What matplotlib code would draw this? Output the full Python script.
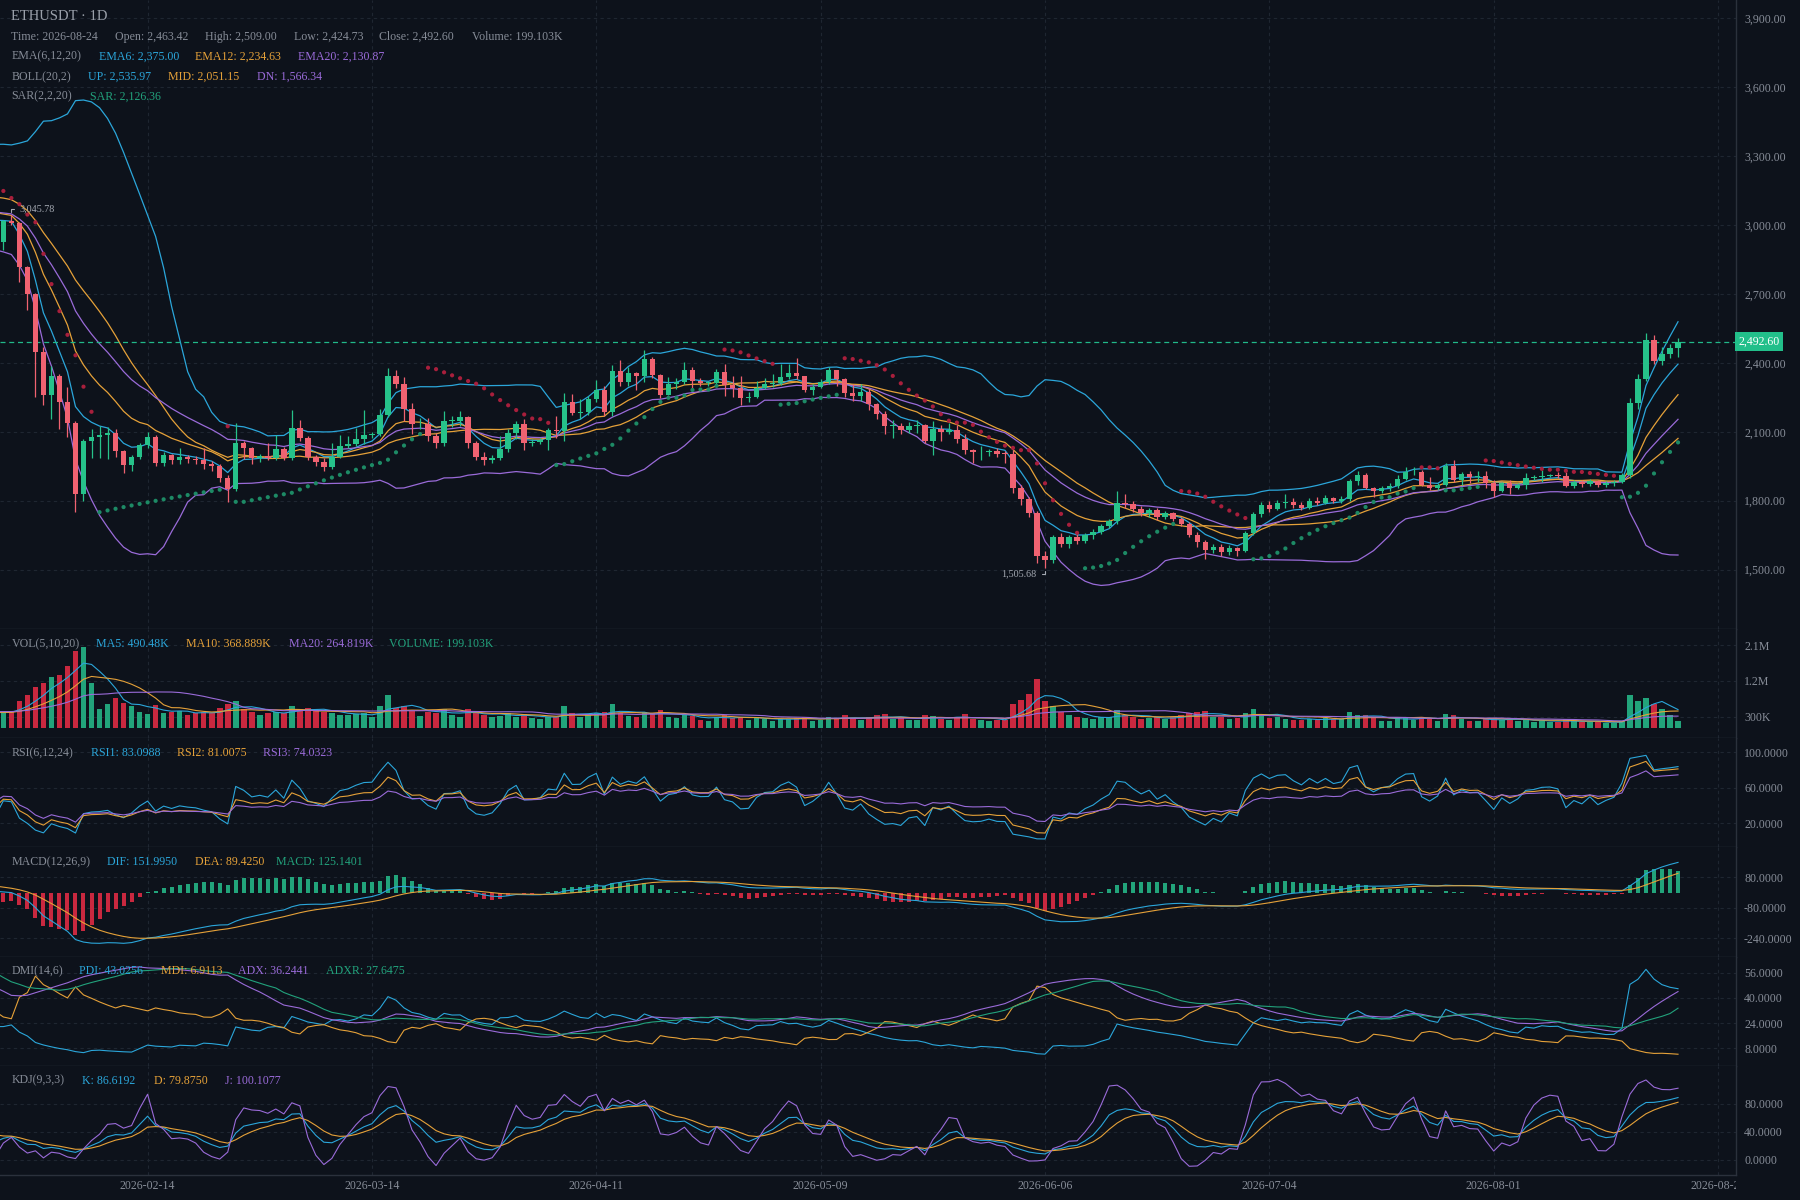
import numpy as np
import pandas as pd
import matplotlib
matplotlib.use("Agg")
import matplotlib.pyplot as plt
from matplotlib.transforms import Bbox, TransformedBbox

plt.rcParams['font.family'] = ['Liberation Serif', 'DejaVu Serif']

# colours
BG = '#0d121b'
GRID = '#1f2631'
SEP = '#2b313c'
TXT = '#868c97'
UP = '#26c28a'
DOWN = '#f06271'
VUP = '#22a47b'
VDOWN = '#c9283f'
BLUE = '#2ba6da'
ORANGE = '#e5a139'
PURPLE = '#9a6bd9'
TEAL = '#22a27c'
SAR_UP = '#1d8a65'
SAR_DN = '#a81f3c'

# hidden warm-up days before the visible window (feed the indicators)
warm_start = '2026-01-02'
warm_open = [2840, 2860, 2900, 2950, 3000, 3050, 3100, 3150, 3210, 3260, 3300, 3320, 3280,
             3210, 3130, 3050, 2990, 2960, 3010, 3080, 3140, 3180, 3120, 3040, 2980]
warm_high = [2875, 2915, 2965, 3015, 3065, 3115, 3165, 3225, 3275, 3315, 3335, 3335, 3295,
             3225, 3145, 3065, 3005, 3025, 3095, 3155, 3195, 3195, 3135, 3055, 2995]
warm_low = [2825, 2845, 2885, 2935, 2985, 3035, 3085, 3135, 3195, 3245, 3285, 3265, 3195,
            3115, 3035, 2975, 2945, 2945, 2995, 3065, 3125, 3105, 3025, 2965, 2910]
warm_close = [2860, 2900, 2950, 3000, 3050, 3100, 3150, 3210, 3260, 3300, 3320, 3280, 3210,
              3130, 3050, 2990, 2960, 3010, 3080, 3140, 3180, 3120, 3040, 2980, 2925]
warm_vol = [380, 360, 400, 420, 390, 430, 410, 450, 470, 440, 480, 520, 460,
            430, 410, 400, 420, 390, 410, 380, 400, 420, 390, 410, 400]

# visible candles, 2026-01-27 .. 2026-08-24
opens = [
    2925, 3016, 3008, 2816, 2701, 2447, 2262, 2341, 2229, 2139,
    1830, 2058, 2079, 2084, 2096, 2016, 1955, 1990, 2041, 2079,
    1965, 2000, 1975, 1990, 1980, 1975, 1960, 1950, 1900, 1850,
    2053, 2028, 1985, 1995, 1985, 2025, 1985, 2118, 2075, 1990,
    1970, 1945, 1990, 2036, 2047, 2070, 2087, 2089, 2171, 2345,
    2310, 2197, 2132, 2136, 2081, 2049, 2146, 2148, 2164, 2052,
    1990, 1975, 1985, 2023, 2096, 2132, 2052, 2054, 2063, 2106,
    2103, 2231, 2183, 2185, 2241, 2281, 2186, 2363, 2317, 2355,
    2343, 2415, 2346, 2258, 2307, 2318, 2368, 2321, 2311, 2312,
    2362, 2302, 2290, 2249, 2251, 2290, 2310, 2313, 2339, 2354,
    2342, 2284, 2296, 2316, 2367, 2331, 2267, 2255, 2274, 2219,
    2176, 2125, 2127, 2108, 2125, 2128, 2060, 2111, 2097, 2108,
    2068, 2020, 2010, 2011, 2015, 2003, 2002, 1854, 1806, 1745,
    1560, 1540, 1640, 1610, 1640, 1625, 1650, 1665, 1690, 1710,
    1789, 1785, 1763, 1745, 1760, 1730, 1745, 1720, 1700, 1650,
    1620, 1585, 1600, 1575, 1595, 1580, 1660, 1740, 1780, 1765,
    1790, 1795, 1780, 1770, 1800, 1790, 1810, 1800, 1806, 1886,
    1910, 1856, 1840, 1857, 1863, 1896, 1923, 1926, 1869, 1854,
    1869, 1951, 1890, 1915, 1905, 1907, 1879, 1842, 1878, 1856,
    1870, 1899, 1902, 1909, 1910, 1907, 1866, 1880, 1872, 1885,
    1868, 1875, 1880, 1910, 2225, 2330, 2500, 2410, 2440, 2463.42]
highs = [
    3024, 3045.78, 3012, 2822, 2706, 2470, 2386, 2350, 2293, 2145,
    2070, 2110, 2124, 2120, 2110, 2020, 2000, 2050, 2100, 2085,
    2010, 2005, 2031, 1998, 1995, 2031, 1972, 1960, 1910, 2139,
    2060, 2035, 2005, 2053, 2084, 2035, 2194, 2150, 2080, 2000,
    1985, 2053, 2084, 2080, 2118, 2194, 2100, 2200, 2379, 2370,
    2340, 2225, 2160, 2160, 2095, 2190, 2170, 2190, 2170, 2060,
    2010, 2000, 2080, 2110, 2147, 2155, 2070, 2075, 2118, 2170,
    2270, 2265, 2241, 2255, 2325, 2300, 2390, 2413, 2380, 2360,
    2458, 2424, 2350, 2340, 2333, 2405, 2380, 2333, 2320, 2375,
    2395, 2343, 2343, 2272, 2320, 2335, 2350, 2395, 2395, 2420,
    2345, 2310, 2330, 2380, 2370, 2335, 2310, 2310, 2290, 2225,
    2190, 2150, 2140, 2142, 2150, 2135, 2145, 2128, 2140, 2130,
    2090, 2025, 2040, 2025, 2030, 2015, 2020, 1870, 1815, 1755,
    1580, 1650, 1660, 1650, 1655, 1660, 1675, 1700, 1720, 1842,
    1830, 1800, 1775, 1770, 1768, 1755, 1752, 1730, 1705, 1665,
    1630, 1610, 1610, 1605, 1600, 1670, 1750, 1795, 1800, 1805,
    1828, 1810, 1795, 1810, 1815, 1824, 1818, 1820, 1895, 1930,
    1920, 1860, 1862, 1875, 1910, 1945, 1945, 1935, 1905, 1875,
    1962, 1975, 1925, 1928, 1930, 1930, 1888, 1882, 1890, 1878,
    1920, 1912, 1935, 1918, 1925, 1925, 1890, 1888, 1895, 1892,
    1885, 1890, 1920, 2245, 2350, 2530, 2520, 2470, 2480, 2509.00]
lows = [
    2893, 3000, 2750, 2632, 2250, 2216, 2154, 2110, 2076, 1750,
    1800, 1985, 1985, 1980, 1990, 1920, 1930, 1980, 2030, 1950,
    1950, 1960, 1960, 1965, 1960, 1940, 1930, 1880, 1795, 1840,
    1980, 1960, 1970, 1975, 1975, 1975, 1975, 2060, 1975, 1950,
    1930, 1940, 1985, 2030, 2040, 2045, 2075, 2080, 2165, 2290,
    2145, 2090, 2110, 2060, 2030, 2040, 2120, 2125, 2030, 1975,
    1955, 1965, 1975, 2010, 2070, 2020, 2040, 2045, 2020, 2075,
    2060, 2175, 2155, 2175, 2230, 2170, 2170, 2300, 2300, 2280,
    2315, 2335, 2248, 2258, 2285, 2307, 2284, 2300, 2300, 2300,
    2255, 2252, 2218, 2230, 2245, 2285, 2295, 2305, 2330, 2330,
    2275, 2260, 2290, 2310, 2300, 2250, 2235, 2235, 2196, 2157,
    2090, 2075, 2090, 2095, 2095, 2052, 2000, 2060, 2090, 2052,
    2005, 1965, 1975, 1995, 1990, 1965, 1835, 1780, 1730, 1530,
    1505.68, 1530, 1600, 1595, 1610, 1615, 1635, 1655, 1680, 1700,
    1770, 1750, 1735, 1730, 1715, 1720, 1710, 1690, 1640, 1600,
    1545, 1570, 1560, 1565, 1560, 1575, 1650, 1730, 1750, 1760,
    1770, 1770, 1760, 1765, 1780, 1785, 1790, 1790, 1800, 1870,
    1852, 1815, 1835, 1840, 1855, 1890, 1910, 1862, 1845, 1845,
    1865, 1880, 1870, 1875, 1880, 1855, 1815, 1838, 1830, 1850,
    1850, 1890, 1880, 1902, 1898, 1860, 1855, 1860, 1865, 1860,
    1858, 1865, 1875, 1900, 2200, 2320, 2395, 2390, 2420, 2424.73]
closes = [
    3016, 3008, 2816, 2701, 2447, 2262, 2341, 2229, 2139, 1830,
    2058, 2079, 2084, 2096, 2016, 1955, 1990, 2041, 2079, 1965,
    2000, 1975, 1990, 1980, 1975, 1960, 1950, 1900, 1850, 2053,
    2028, 1985, 1995, 1985, 2025, 1985, 2118, 2075, 1990, 1970,
    1945, 1990, 2036, 2047, 2070, 2087, 2089, 2171, 2345, 2310,
    2197, 2132, 2136, 2081, 2049, 2146, 2148, 2164, 2052, 1990,
    1975, 1985, 2023, 2096, 2132, 2052, 2054, 2063, 2106, 2103,
    2231, 2183, 2185, 2241, 2281, 2186, 2363, 2317, 2355, 2343,
    2415, 2346, 2258, 2307, 2318, 2368, 2321, 2311, 2312, 2362,
    2302, 2290, 2249, 2251, 2290, 2310, 2313, 2339, 2354, 2342,
    2284, 2296, 2316, 2367, 2331, 2267, 2255, 2274, 2219, 2176,
    2125, 2127, 2108, 2125, 2128, 2060, 2111, 2097, 2108, 2068,
    2020, 2010, 2011, 2015, 2003, 2002, 1854, 1806, 1745, 1560,
    1540, 1640, 1610, 1640, 1625, 1650, 1665, 1690, 1710, 1789,
    1785, 1763, 1745, 1760, 1730, 1745, 1720, 1700, 1650, 1620,
    1585, 1600, 1575, 1595, 1580, 1660, 1740, 1780, 1765, 1790,
    1795, 1780, 1770, 1800, 1790, 1810, 1800, 1806, 1886, 1910,
    1856, 1840, 1857, 1863, 1896, 1923, 1926, 1869, 1854, 1869,
    1951, 1890, 1915, 1905, 1907, 1879, 1842, 1878, 1856, 1870,
    1899, 1902, 1909, 1910, 1907, 1866, 1880, 1872, 1885, 1868,
    1875, 1880, 1910, 2225, 2330, 2500, 2410, 2440, 2463.42, 2492.60]
# volume in K
volumes = [
    420, 430, 700, 850, 1050, 1150, 1300, 1350, 1580, 1950,
    2070, 1140, 480, 620, 770, 650, 560, 420, 360, 600,
    380, 420, 450, 330, 380, 420, 400, 520, 620, 700,
    480, 420, 350, 380, 420, 380, 560, 480, 520, 450,
    420, 380, 350, 330, 360, 380, 300, 560, 840, 520,
    560, 440, 320, 420, 400, 500, 330, 300, 480, 400,
    340, 300, 320, 380, 300, 360, 260, 240, 300, 280,
    560, 380, 300, 340, 380, 420, 620, 400, 320, 300,
    420, 380, 460, 300, 260, 340, 320, 220, 200, 300,
    340, 260, 300, 220, 260, 240, 200, 250, 230, 260,
    300, 200, 220, 300, 260, 330, 240, 220, 300, 330,
    360, 230, 260, 220, 210, 340, 320, 240, 220, 300,
    360, 240, 220, 200, 210, 220, 620, 720, 860, 1250,
    700, 560, 420, 330, 300, 260, 240, 280, 300, 460,
    330, 300, 240, 260, 280, 240, 300, 330, 380, 420,
    440, 300, 280, 240, 260, 380, 480, 360, 260, 300,
    240, 220, 210, 240, 220, 260, 240, 230, 420, 340,
    330, 260, 200, 190, 260, 300, 220, 300, 240, 200,
    360, 330, 240, 200, 180, 240, 260, 220, 240, 190,
    230, 170, 200, 160, 170, 230, 180, 160, 170, 160,
    150, 140, 180, 850, 700, 760, 620, 480, 330, 199.103]

tick_dates = ['2026-02-14', '2026-03-14', '2026-04-11', '2026-05-09',
              '2026-06-06', '2026-07-04', '2026-08-01', '2026-08-29']

n_warm = len(warm_close)
o = np.array(warm_open + opens, float)
h = np.array(warm_high + highs, float)
l = np.array(warm_low + lows, float)
c = np.array(warm_close + closes, float)
v = np.array(warm_vol + volumes, float)
dates = pd.date_range(warm_start, periods=len(c))
x = np.arange(len(c)) - n_warm
tick_pos = (pd.to_datetime(tick_dates) - dates[n_warm]).days.values

cs, hs, ls, vs = pd.Series(c), pd.Series(h), pd.Series(l), pd.Series(v)
up = c >= o


def ema(s, n):
    return s.ewm(span=n, adjust=False).mean()


def sma(s, n):
    return s.ewm(alpha=1.0 / n, adjust=False).mean()


# EMA + BOLL
ema6, ema12, ema20 = ema(cs, 6), ema(cs, 12), ema(cs, 20)
mid = cs.rolling(20).mean()
sd = cs.rolling(20).std(ddof=0)
boll_up, boll_dn = mid + 2 * sd, mid - 2 * sd

# SAR(2,2,20)
sar = np.zeros(len(c))
bull = np.zeros(len(c), bool)
trend, af, ep = True, 0.02, h[0]
sar[0] = l[0]
bull[0] = True
for i in range(1, len(c)):
    s = sar[i - 1] + af * (ep - sar[i - 1])
    if trend:
        s = min(s, l[i - 1], l[max(i - 2, 0)])
        if l[i] < s:
            trend, s, ep, af = False, ep, l[i], 0.02
        elif h[i] > ep:
            ep, af = h[i], min(af + 0.02, 0.2)
    else:
        s = max(s, h[i - 1], h[max(i - 2, 0)])
        if h[i] > s:
            trend, s, ep, af = True, ep, h[i], 0.02
        elif l[i] < ep:
            ep, af = l[i], min(af + 0.02, 0.2)
    sar[i] = s
    bull[i] = trend

# VOL MA
vma5 = vs.rolling(5, min_periods=1).mean()
vma10 = vs.rolling(10, min_periods=1).mean()
vma20 = vs.rolling(20, min_periods=1).mean()

# RSI
diff = cs.diff().fillna(0)
rsi = {n: sma(diff.clip(lower=0), n) / sma(diff.abs(), n) * 100 for n in (6, 12, 24)}

# MACD
dif = ema(cs, 12) - ema(cs, 26)
dea = ema(dif, 9)
hist = 2 * (dif - dea)

# DMI (Wilder smoothing, ADXR lag 6)
pc = cs.shift(1)
tr = pd.concat([hs - ls, (hs - pc).abs(), (ls - pc).abs()], axis=1).max(axis=1)
hd = hs - hs.shift(1)
ld = ls.shift(1) - ls
dmp = pd.Series(np.where((hd > 0) & (hd > ld), hd, 0.0))
dmm = pd.Series(np.where((ld > 0) & (ld > hd), ld, 0.0))
trs = sma(tr, 14)
pdi = sma(dmp, 14) / trs * 100
mdi = sma(dmm, 14) / trs * 100
adx = sma((mdi - pdi).abs() / (mdi + pdi) * 100, 14)
adxr = (adx + adx.shift(6).bfill()) / 2

# KDJ
llv = ls.rolling(9, min_periods=1).min()
hhv = hs.rolling(9, min_periods=1).max()
rsv = (cs - llv) / (hhv - llv) * 100
kk = sma(rsv, 3)
dd = sma(kk, 3)
jj = 3 * kk - 2 * dd

# ---------------- figure ----------------
W, H = 1568, 1045
RIGHT = 1512


def fx(px):
    return px / W


def fy(py):
    return 1 - py / H


fig = plt.figure(figsize=(18, 12), dpi=100, facecolor=BG)
panels = [(0, 548), (548, 643), (643, 738), (738, 833), (833, 928), (928, 1023)]
axes = [fig.add_axes([0, fy(b), fx(RIGHT), (b - t) / H], facecolor=BG) for t, b in panels]
ax_p, ax_v, ax_r, ax_m, ax_d, ax_k = axes

limits = [(1240, 3980), (-250, 2505), (-7.1, 115.5), (-337, 237), (-2.9, 66.2), (-21.2, 133.9)]
yticks = [
    (np.arange(1500, 3901, 300), [f'{t:,.2f}' for t in np.arange(1500, 3901, 300)]),
    ([300, 1200, 2100], ['300K', '1.2M', '2.1M']),
    ([20, 60, 100], ['20.0000', '60.0000', '100.0000']),
    ([-240, -80, 80], ['-240.0000', '-80.0000', '80.0000']),
    ([8, 24, 40, 56], ['8.0000', '24.0000', '40.0000', '56.0000']),
    ([0, 40, 80], ['0.0000', '40.0000', '80.0000']),
]
for ax, lim, (tv, tl) in zip(axes, limits, yticks):
    ax.set_xlim(-0.42, 216.2)
    ax.set_ylim(*lim)
    ax.set_yticks(tv)
    ax.set_yticklabels(tl)
    ax.yaxis.tick_right()
    ax.set_xticks(tick_pos)
    ax.tick_params(axis='y', length=0, pad=6, labelsize=8.6, labelcolor=TXT)
    ax.tick_params(axis='x', length=0, labelbottom=False)
    ax.grid(True, color=GRID, ls=(0, (3, 3)), lw=0.8)
    ax.set_axisbelow(True)
    for s in ('top', 'left'):
        ax.spines[s].set_visible(False)
    for s in ('bottom', 'right'):
        ax.spines[s].set_color(SEP)
        ax.spines[s].set_linewidth(1.0)

# price panel
cols = np.where(up, UP, DOWN)
ax_p.vlines(x, l, h, color=cols, lw=0.9, zorder=3)
body = np.maximum(np.abs(c - o), 4)
ax_p.bar(x, body, bottom=np.minimum(o, c), width=0.68, color=cols, zorder=3)
ax_p.plot(x, boll_up, color=BLUE, lw=0.9, zorder=2)
ax_p.plot(x, mid, color=ORANGE, lw=0.9, zorder=2)
ax_p.plot(x, boll_dn, color=PURPLE, lw=0.9, zorder=2)
ax_p.plot(x, ema6, color=BLUE, lw=0.9, zorder=2)
ax_p.plot(x, ema12, color=ORANGE, lw=0.9, zorder=2)
ax_p.plot(x, ema20, color=PURPLE, lw=0.9, zorder=2)
ax_p.scatter(x, sar, s=9, c=np.where(bull, SAR_UP, SAR_DN), lw=0, zorder=4)
ax_p.axhline(c[-1], color='#21b889', lw=0.9, ls=(0, (4, 3)), zorder=2)
ax_p.annotate(f'{c[-1]:,.2f}', xy=(1.0, c[-1]), xycoords=('axes fraction', 'data'),
              xytext=(2, 0), textcoords='offset points', ha='left', va='center',
              color='white', fontsize=8.6, annotation_clip=False,
              bbox=dict(boxstyle='square,pad=0.28', fc='#22bf8a', ec='none'))

# max / min markers
ihi = n_warm + int(np.argmax(highs))
ilo = n_warm + int(np.argmin(lows))
ax_p.annotate(f'{h[ihi]:,.2f}', xy=(x[ihi], h[ihi]), xytext=(6, 4), textcoords='offset points',
              ha='left', va='center', color='#a3a8b1', fontsize=7.3,
              arrowprops=dict(arrowstyle='-', color='#a3a8b1', lw=0.8,
                              connectionstyle='angle,angleA=0,angleB=90,rad=0'))
ax_p.annotate(f'{l[ilo]:,.2f}', xy=(x[ilo], l[ilo]), xytext=(-6, -4), textcoords='offset points',
              ha='right', va='center', color='#a3a8b1', fontsize=7.3,
              arrowprops=dict(arrowstyle='-', color='#a3a8b1', lw=0.8,
                              connectionstyle='angle,angleA=0,angleB=90,rad=0'))

# volume
ax_v.bar(x, v, width=0.7, color=np.where(up, VUP, VDOWN), zorder=2)
ax_v.plot(x, vma5, color=BLUE, lw=0.8, zorder=3)
ax_v.plot(x, vma10, color=ORANGE, lw=0.8, zorder=3)
ax_v.plot(x, vma20, color=PURPLE, lw=0.8, zorder=3)

# RSI
ax_r.plot(x, rsi[6], color=BLUE, lw=0.8)
ax_r.plot(x, rsi[12], color=ORANGE, lw=0.8)
ax_r.plot(x, rsi[24], color=PURPLE, lw=0.8)

# MACD
ax_m.bar(x, hist, width=0.5, color=np.where(hist >= 0, VUP, VDOWN), zorder=2)
ax_m.plot(x, dif, color=BLUE, lw=0.8, zorder=3)
ax_m.plot(x, dea, color=ORANGE, lw=0.8, zorder=3)

# DMI
ax_d.plot(x, pdi, color=BLUE, lw=0.8)
ax_d.plot(x, mdi, color=ORANGE, lw=0.8)
ax_d.plot(x, adx, color=PURPLE, lw=0.8)
ax_d.plot(x, adxr, color=TEAL, lw=0.8)

# KDJ
ax_k.plot(x, kk, color=BLUE, lw=0.8)
ax_k.plot(x, dd, color=ORANGE, lw=0.8)
ax_k.plot(x, jj, color=PURPLE, lw=0.8)

# date labels, cut at the price-scale column
ax_k.set_xticklabels(tick_dates)
ax_k.tick_params(axis='x', labelbottom=True, labelsize=8.6, labelcolor=TXT, pad=4)
clip = TransformedBbox(Bbox([[0, 0], [fx(RIGHT), 1]]), fig.transFigure)
for lbl in ax_k.get_xticklabels():
    lbl.set_clip_on(True)
    lbl.set_clip_box(clip)

# legends
FS = 8.6


def row(y, items):
    for px, s, col in items:
        fig.text(fx(px), fy(y), s, color=col, fontsize=FS, va='center', ha='left')


fig.text(fx(10), fy(14), 'ETHUSDT · 1D', color='#9aa0aa', fontsize=10.5, va='center')
row(32, [(10, 'Time: 2026-08-24', TXT), (100, 'Open: 2,463.42', TXT), (179, 'High: 2,509.00', TXT),
         (256, 'Low: 2,424.73', TXT), (330, 'Close: 2,492.60', TXT), (411, 'Volume: 199.103K', TXT)])
row(49, [(10, 'EMA(6,12,20)', TXT), (86, 'EMA6: 2,375.00', BLUE), (170, 'EMA12: 2,234.63', ORANGE),
         (260, 'EMA20: 2,130.87', PURPLE)])
row(67, [(10, 'BOLL(20,2)', TXT), (77, 'UP: 2,535.97', BLUE), (146, 'MID: 2,051.15', ORANGE),
         (224, 'DN: 1,566.34', PURPLE)])
row(84, [(10, 'SAR(2,2,20)', TXT), (78, 'SAR: 2,126.36', TEAL)])
row(561, [(10, 'VOL(5,10,20)', TXT), (84, 'MA5: 490.48K', BLUE), (162, 'MA10: 368.889K', ORANGE),
          (252, 'MA20: 264.819K', PURPLE), (339, 'VOLUME: 199.103K', TEAL)])
row(656, [(10, 'RSI(6,12,24)', TXT), (79, 'RSI1: 83.0988', BLUE), (154, 'RSI2: 81.0075', ORANGE),
          (229, 'RSI3: 74.0323', PURPLE)])
row(751, [(10, 'MACD(12,26,9)', TXT), (93, 'DIF: 151.9950', BLUE), (170, 'DEA: 89.4250', ORANGE),
          (240, 'MACD: 125.1401', TEAL)])
row(846, [(10, 'DMI(14,6)', TXT), (69, 'PDI: 43.0256', BLUE), (140, 'MDI: 6.9113', ORANGE),
          (207, 'ADX: 36.2441', PURPLE), (284, 'ADXR: 27.6475', TEAL)])
row(941, [(10, 'KDJ(9,3,3)', TXT), (71, 'K: 86.6192', BLUE), (134, 'D: 79.8750', ORANGE),
          (196, 'J: 100.1077', PURPLE)])

fig.savefig('out.png', dpi=100, facecolor=BG)
